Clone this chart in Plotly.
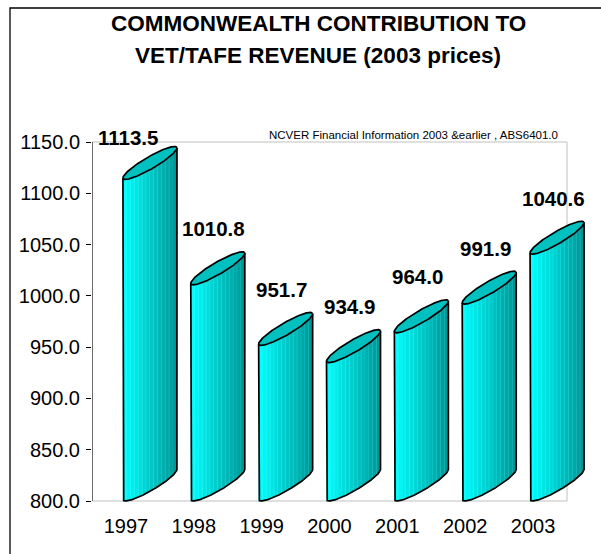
import numpy as np
import plotly.graph_objects as go

# ---------------- data ----------------
years = ["1997", "1998", "1999", "2000", "2001", "2002", "2003"]
values = [1113.5, 1010.8, 951.7, 934.9, 964.0, 991.9, 1040.6]
y_ticks = [800, 850, 900, 950, 1000, 1050, 1100, 1150]
y_tick_labels = [f"{v:.1f}" for v in y_ticks]
title_lines = ["COMMONWEALTH CONTRIBUTION TO", "VET/TAFE REVENUE (2003 prices)"]
source_text = "NCVER Financial Information 2003 &earlier , ABS6401.0"

# ---------------- layout geometry (pixels) ----------------
W_PX, H_PX = 601, 554
ML, MR, MT, MB = 92, 6, 130, 46
PW = W_PX - ML - MR
PH = H_PX - MT - MB
Y0, Y1 = y_ticks[0], y_ticks[-1]
Y_TOP_PX, Y_BOT_PX = 142, 501
KY = (Y_BOT_PX - Y_TOP_PX) / (Y1 - Y0)          # px per value unit
KX = 475 / len(years)                            # px per category
yr = [Y0 - ((H_PX - MB) - Y_BOT_PX) / KY, Y1 + (Y_TOP_PX - MT) / KY]
xr = [-0.5, -0.5 + PW / KX]

FONT = "Arial, 'Liberation Sans', sans-serif"


def px_x(px):
    return (px - ML) / PW


def px_y(py):
    return ((H_PX - MB) - py) / PH


# cylinder (oblique) geometry, in pixels
HALF_W, HALF_H, MINOR = 27.0, 16.5, 6.0
MAJOR = np.sqrt(HALF_W**2 + HALF_H**2 - MINOR**2)
COSF = np.sqrt((HALF_W**2 - MINOR**2) / (MAJOR**2 - MINOR**2))
SINF = np.sqrt(1 - COSF**2)
CX_OFF = 24.0  # ellipse centre offset from category centre (px)


def ell(t):
    return (MAJOR * np.cos(t) * COSF - MINOR * np.sin(t) * SINF,
            MAJOR * np.cos(t) * SINF + MINOR * np.sin(t) * COSF)


t_full = np.linspace(0, 2 * np.pi, 241)
ex, ey = ell(t_full)
ey_low = ey.min()
delta = np.arctan2(MINOR * SINF, MAJOR * COSF)
t_arc = np.linspace(np.pi - delta, 2 * np.pi - delta, 161)
arc_x, arc_y = ell(t_arc)   # lower (front) arc, left -> right


def lower(xp):
    return np.interp(xp, arc_x, arc_y)


N_STRIPS = 14
c_left = np.array([0, 255, 255])
c_right = np.array([0, 150, 150])

fig = go.Figure()

for i, v in enumerate(values):
    cx = i + CX_OFF / KX
    top_c = v + (-ey_low) / KY      # ellipse centre (value units) for cap
    bot_c = Y0 + (-ey_low) / KY      # ellipse centre for base
    xs_edges = np.linspace(arc_x[0], arc_x[-1], N_STRIPS + 1)
    for s in range(N_STRIPS):
        xa = np.linspace(xs_edges[s], xs_edges[s + 1], 8)
        top_y = top_c + lower(xa) / KY
        bot_y = bot_c + lower(xa) / KY
        px_ = np.concatenate([xa, xa[::-1]])
        py_ = np.concatenate([top_y, bot_y[::-1]])
        frac = s / (N_STRIPS - 1)
        col = c_left + (c_right - c_left) * frac
        lighter = np.minimum(col + np.array([0, 28, 28]), 255)
        fig.add_trace(go.Scatter(
            x=cx + px_ / KX, y=py_, mode="lines", fill="toself",
            fillcolor=f"rgb({int(col[0])},{int(col[1])},{int(col[2])})",
            line=dict(width=0.7, color=f"rgb({int(lighter[0])},{int(lighter[1])},{int(lighter[2])})"),
            hoverinfo="skip", showlegend=False))
    # body outline
    ox = np.concatenate([[arc_x[0]], arc_x, [arc_x[-1]]])
    oy = np.concatenate([[top_c + arc_y[0] / KY], bot_c + arc_y / KY, [top_c + arc_y[-1] / KY]])
    fig.add_trace(go.Scatter(
        x=cx + ox / KX, y=oy, mode="lines",
        line=dict(width=1.7, color="black"),
        hoverinfo="skip", showlegend=False))
    # cap
    fig.add_trace(go.Scatter(
        x=cx + ex / KX, y=top_c + ey / KY, mode="lines", fill="toself",
        fillcolor="rgb(0,192,192)", line=dict(width=1.7, color="black"),
        hoverinfo="skip", showlegend=False))

# data labels
LABEL_DX_PX, LABEL_DY_PX = 20, 56
LABEL_MAX = Y0 + (Y_BOT_PX - 137.5) / KY
annotations = []
for i, v in enumerate(values):
    ly = v + LABEL_DY_PX / KY
    dx = LABEL_DX_PX
    if ly > LABEL_MAX:
        ly = LABEL_MAX
        dx = 2.5
    annotations.append(dict(
        x=i + dx / KX, y=ly, xref="x", yref="y", text=f"<b>{v:.1f}</b>",
        showarrow=False, xanchor="center", yanchor="middle",
        font=dict(family=FONT, size=20.5, color="black")))

# title
for k, (line, py) in enumerate(zip(title_lines, [23, 55])):
    annotations.append(dict(
        x=px_x(318), y=px_y(py), xref="paper", yref="paper",
        text=f"<b>{line}</b>", showarrow=False, xanchor="center", yanchor="middle",
        font=dict(family=FONT, size=22.5, color="black")))

# source
annotations.append(dict(
    x=px_x(560), y=px_y(135), xref="paper", yref="paper", text=source_text,
    showarrow=False, xanchor="right", yanchor="middle",
    font=dict(family=FONT, size=11.5, color="black")))

shapes = [
    # chart border
    dict(type="rect", xref="paper", yref="paper",
         x0=px_x(10), x1=px_x(700), y0=px_y(8), y1=px_y(700),
         line=dict(color="black", width=1.3), layer="below"),
    # plot frame
    dict(type="rect", xref="x", yref="y", x0=-0.5, x1=len(years) - 0.5, y0=Y0, y1=Y1,
         line=dict(color="rgb(192,192,192)", width=1), layer="below"),
    # value axis line
    dict(type="line", xref="x", yref="y", x0=-0.5, x1=-0.5, y0=Y0, y1=Y1,
         line=dict(color="black", width=1), layer="above"),
]

fig.update_layout(
    width=W_PX, height=H_PX,
    margin=dict(l=ML, r=MR, t=MT, b=MB, pad=0),
    paper_bgcolor="white", plot_bgcolor="white",
    showlegend=False,
    annotations=annotations,
    shapes=shapes,
    xaxis=dict(range=xr, tickmode="array", tickvals=list(range(len(years))),
               ticktext=years, ticks="", showgrid=False, zeroline=False,
               showline=False, tickfont=dict(family=FONT, size=20, color="black"),
               ticklabelstandoff=4, fixedrange=True),
    yaxis=dict(range=yr, tickmode="array", tickvals=y_ticks, ticktext=y_tick_labels,
               ticks="outside", ticklen=5, tickcolor="black", tickwidth=1,
               showgrid=False, zeroline=False, showline=False,
               tickfont=dict(family=FONT, size=20, color="black"),
               ticklabelstandoff=2, fixedrange=True),
)

fig.write_html("out.html")
